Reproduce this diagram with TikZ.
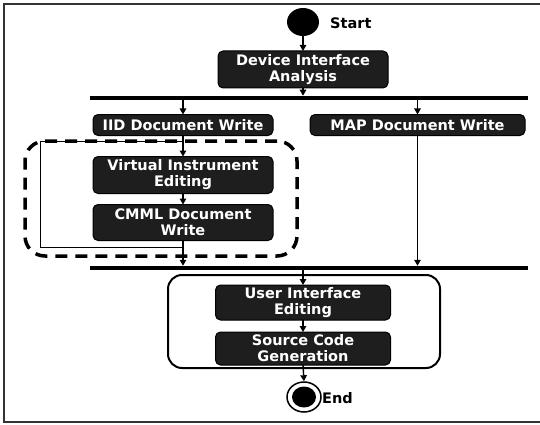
\documentclass[tikz,border=0pt]{standalone}
\usepackage{fontspec}
\setmainfont{DejaVu Sans}
\usetikzlibrary{shapes.geometric,arrows.meta}
\definecolor{boxfill}{HTML}{1E1E1E}
\tikzset{
  box/.style={draw=black, fill=boxfill, rounded corners=5pt, text=white,
    font=\bfseries\fontsize{14.5}{16}\selectfont, align=center,
    inner sep=0pt, outer sep=0pt, line width=1pt},
  forkbar/.style={fill=black, inner sep=0pt, outer sep=0pt, minimum height=4.5pt, minimum width=438pt},
  arr/.style={line width=1.4pt, -{Triangle[length=6pt,width=6.5pt]}},
  lbl/.style={font=\bfseries\fontsize{14.5}{16}\selectfont, anchor=west, inner sep=0pt},
  frame/.style={line width=1.2pt, black!80}
}
\begin{document}
\begin{tikzpicture}[x=1pt, y=-1pt]
\useasboundingbox (0,0) rectangle (540,425);
% frame
\coordinate (f1) at (540,4);
\coordinate (f2) at (4,4);
\coordinate (f3) at (4,422);
\coordinate (f4) at (540,422);
\draw[frame] (f1) -- (f2) -- (f3) -- (f4);

% group containers
\node[draw=black, dashed, line width=3.5pt, dash pattern=on 12pt off 8pt, rounded corners=20pt,
  minimum width=272pt, minimum height=115pt, inner sep=0pt] (grp) at (161,198.5) {};
\node[draw=black, line width=2pt, rounded corners=14pt,
  minimum width=272pt, minimum height=93pt, inner sep=0pt] (grp2) at (304,321.5) {};

% start
\node[ellipse, fill=black, minimum width=32pt, minimum height=28pt, inner sep=0pt] (start) at (303,22) {};
\node[lbl] (startlbl) at (330,23) {Start};

% boxes
\node[box, minimum width=170pt, minimum height=37pt] (dia) at (303,69.5) {Device Interface\\Analysis};
\node[forkbar] (bar1) at (309,98) {};
\node[box, minimum width=180pt, minimum height=21pt] (iid) at (183,125) {IID Document Write};
\node[box, minimum width=215pt, minimum height=21pt] (map) at (417.5,125) {MAP Document Write};
\node[box, minimum width=180pt, minimum height=37pt] (vi) at (183,175) {Virtual Instrument\\Editing};
\node[box, minimum width=180pt, minimum height=36pt] (cmml) at (183,222.5) {CMML Document\\Write};
\node[forkbar] (bar2) at (309,268) {};
\node[box, minimum width=175pt, minimum height=35pt] (ui) at (303,302.5) {User Interface\\Editing};
\node[box, minimum width=175pt, minimum height=33pt] (sc) at (303,348.5) {Source Code\\Generation};

% end
\node[ellipse, draw=black, line width=1.5pt, minimum width=34pt, minimum height=30pt, inner sep=0pt] (end) at (304,397) {};
\node[ellipse, fill=black, minimum width=24pt, minimum height=21pt, inner sep=0pt] (endin) at (304,397) {};
\node[lbl] (endlbl) at (322,398) {End};

% loop back
\coordinate (lb) at (40,247);
\coordinate (lt) at (40,141);
\draw[line width=1pt] (cmml.south |- lb) -- (lb) -- (lt) -- (iid.south |- lt);

% connectors
\draw[arr] (start.south) -- (dia.north);
\draw[arr] (dia.south) -- (dia.south |- bar1.north);
\draw[arr] (iid.north |- bar1.south) -- (iid.north);
\draw[arr] (map.north |- bar1.south) -- (map.north);
\draw[arr] (iid.south) -- (vi.north);
\draw[arr] (vi.south) -- (cmml.north);
\draw[arr] (cmml.south) -- (cmml.south |- bar2.north);
\draw[arr] (map.south) -- (map.south |- bar2.north);
\draw[arr] (ui.north |- bar2.south) -- (ui.north);
\draw[arr] (ui.south) -- (sc.north);
\draw[arr] (sc.south) -- (end.north);
\end{tikzpicture}
\end{document}
